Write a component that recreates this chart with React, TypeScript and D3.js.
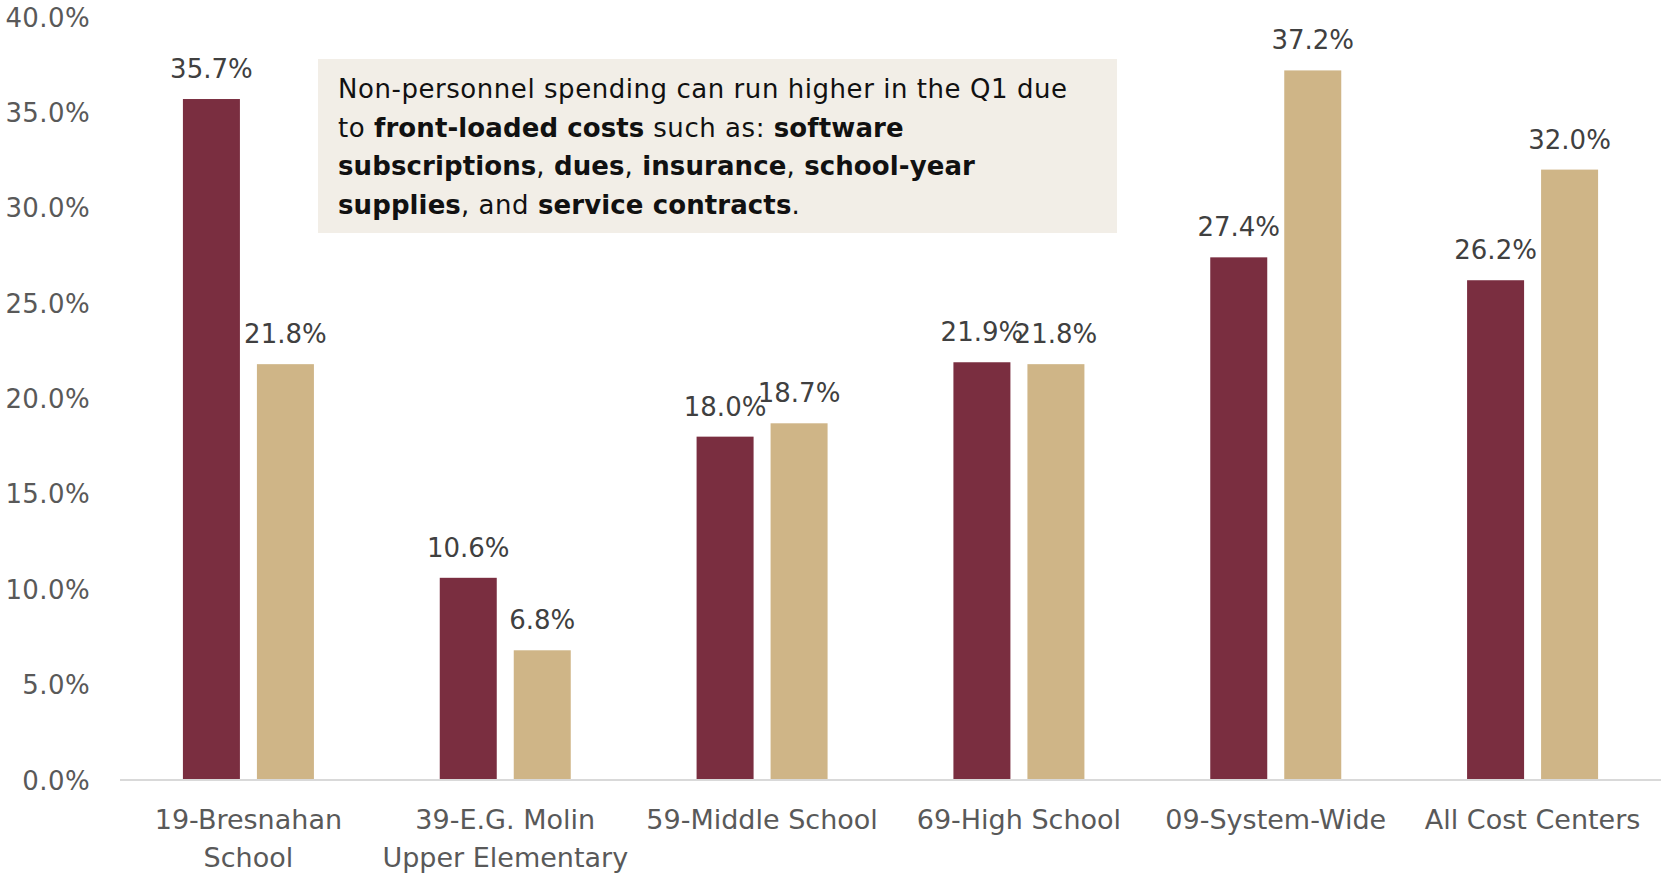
import React from 'react';
import * as d3 from 'd3';

const categories = [
  ['19-Bresnahan', 'School'],
  ['39-E.G. Molin', 'Upper Elementary'],
  ['59-Middle School'],
  ['69-High School'],
  ['09-System-Wide'],
  ['All Cost Centers'],
];
const seriesA = [35.7, 10.6, 18.0, 21.9, 27.4, 26.2];
const seriesB = [21.8, 6.8, 18.7, 21.8, 37.2, 32.0];
const yTicks = [0, 5, 10, 15, 20, 25, 30, 35, 40];

const colorA = '#7A2E40';
const colorB = '#CFB587';

// annotation lines, each a list of [text, bold]
const note: [string, boolean][][] = [
  [['Non-personnel spending can run higher in the Q1 due', false]],
  [
    ['to ', false],
    ['front-loaded costs', true],
    [' such as: ', false],
    ['software', true],
  ],
  [
    ['subscriptions', true],
    [', ', false],
    ['dues', true],
    [', ', false],
    ['insurance', true],
    [', ', false],
    ['school-year', true],
  ],
  [
    ['supplies', true],
    [', and ', false],
    ['service contracts', true],
    ['.', false],
  ],
];

const W = 1661;
const H = 874;
const margin = { left: 120, right: 0, top: 17, bottom: 94 };
const font = 'DejaVu Sans, sans-serif';

export default function App() {
  const x = d3
    .scaleBand<number>()
    .domain(d3.range(categories.length))
    .range([margin.left, W - margin.right])
    .padding(0);

  const groupW = 131;
  const x1 = d3
    .scaleBand<string>()
    .domain(['a', 'b'])
    .range([0, groupW])
    .paddingInner(17 / 74);

  const y = d3
    .scaleLinear()
    .domain([0, 40])
    .range([H - margin.bottom, margin.top]);

  const fmt = d3.format('.1f');
  const series = [
    { key: 'a', values: seriesA, color: colorA },
    { key: 'b', values: seriesB, color: colorB },
  ];

  return (
    <svg
      width={W}
      height={H}
      style={{ position: 'absolute', left: 0, top: 0, background: '#fff' }}
      fontFamily={font}
    >
      {yTicks.map((t) => (
        <text
          key={t}
          x={90}
          y={y(t) + 9.5}
          textAnchor="end"
          fontSize={26}
          letterSpacing={0.4}
          fill="#595959"
        >
          {fmt(t)}%
        </text>
      ))}

      <rect x={318} y={59} width={799} height={174} fill="#F2EEE7" />
      {note.map((line, i) => (
        <text key={i} x={338} y={98 + i * 38.5} fontSize={26} fill="#111">
          {line.map(([s, b], j) => (
            <tspan
              key={j}
              fontWeight={b ? 'bold' : 'normal'}
              letterSpacing={b ? 0.1 : 0.55}
            >
              {s}
            </tspan>
          ))}
        </text>
      ))}

      {categories.map((c, i) => {
        const gx = (x(i) as number) + x.bandwidth() / 2 - groupW / 2;
        return (
          <g key={i} transform={`translate(${gx},0)`}>
            {series.map((s) => {
              const v = s.values[i];
              const bx = x1(s.key) as number;
              return (
                <g key={s.key}>
                  <rect
                    x={bx}
                    y={y(v)}
                    width={x1.bandwidth()}
                    height={y(0) - y(v)}
                    fill={s.color}
                  />
                  <text
                    x={bx + x1.bandwidth() / 2}
                    y={y(v) - 21}
                    textAnchor="middle"
                    fontSize={26}
                    fill="#404040"
                  >
                    {fmt(v)}%
                  </text>
                </g>
              );
            })}
          </g>
        );
      })}

      <line
        x1={margin.left}
        x2={W - margin.right}
        y1={y(0)}
        y2={y(0)}
        stroke="#D9D9D9"
        strokeWidth={2}
      />

      {categories.map((c, i) => (
        <text
          key={i}
          x={(x(i) as number) + x.bandwidth() / 2}
          textAnchor="middle"
          fontSize={27}
          fill="#595959"
        >
          {c.map((l, k) => (
            <tspan key={k} x={(x(i) as number) + x.bandwidth() / 2} y={829 + k * 38}>
              {l}
            </tspan>
          ))}
        </text>
      ))}
    </svg>
  );
}
